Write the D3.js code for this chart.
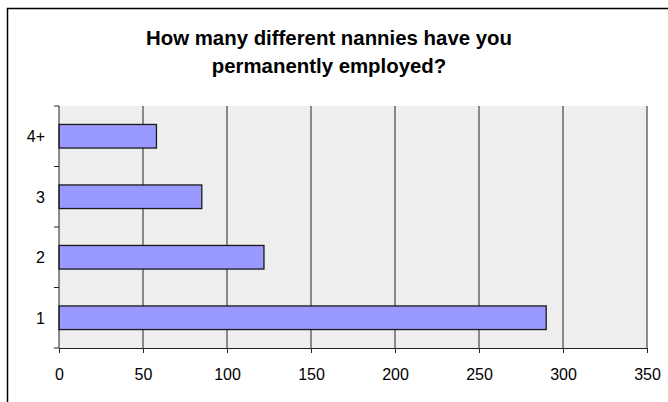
<!DOCTYPE html>
<html><head><meta charset="utf-8">
<script src="https://cdn.jsdelivr.net/npm/d3@7"></script>
<style>
body{margin:0;background:#fff;}
svg{display:block;font-family:"Liberation Sans",Arial,sans-serif;}
</style></head>
<body><svg id="c" width="668" height="402"></svg>
<script>
const titleLines = ["How many different nannies have you", "permanently employed?"];
const categories = ["1", "2", "3", "4+"];
const values = [290, 122, 85, 58];
const xTicks = [0, 50, 100, 150, 200, 250, 300, 350];

const svg = d3.select("#c");
const m = {left: 59, right: 647, top: 106, bottom: 348};
const FONT = "Liberation Sans, Arial, sans-serif";

svg.append("rect").attr("x", 7.5).attr("y", 8.5).attr("width", 700).attr("height", 420)
  .attr("fill", "#fff").attr("stroke", "#000").attr("stroke-width", 1.5);

const title = svg.append("text").attr("text-anchor", "middle").attr("font-weight", "bold")
  .attr("font-size", 20.4).attr("fill", "#000").attr("font-family", FONT);
titleLines.forEach((t, i) => title.append("tspan").attr("x", 329).attr("y", 45 + i * 28).text(t));

const x = d3.scaleLinear().domain([0, 350]).range([m.left, m.right]);
const y = d3.scaleBand().domain(categories.slice().reverse()).range([m.top, m.bottom])
  .paddingInner(0.61).paddingOuter(0.305);

svg.append("rect").attr("x", m.left).attr("y", m.top).attr("width", m.right - m.left)
  .attr("height", m.bottom - m.top).attr("fill", "#eeeeee");

svg.append("g").selectAll("line").data(xTicks.slice(1)).join("line")
  .attr("x1", d => x(d)).attr("x2", d => x(d)).attr("y1", m.top).attr("y2", m.bottom)
  .attr("stroke", "#222").attr("stroke-width", 1);

svg.append("g").selectAll("rect").data(categories).join("rect")
  .attr("x", x(0)).attr("y", d => y(d))
  .attr("width", (d, i) => x(values[i]) - x(0)).attr("height", y.bandwidth())
  .attr("fill", "#9999ff").attr("stroke", "#1a1a1a").attr("stroke-width", 1.3);

const xAxis = svg.append("g").attr("transform", `translate(0,${m.bottom})`)
  .call(d3.axisBottom(x).tickValues(xTicks).tickSize(5).tickPadding(16).tickFormat(d3.format("d")));
xAxis.select(".domain").attr("stroke", "#222");
xAxis.selectAll("line").attr("stroke", "#222");
xAxis.selectAll("text").attr("font-size", 16).attr("fill", "#000").attr("font-family", FONT);

// y axis with ticks at band boundaries
const step = (m.bottom - m.top) / categories.length;
const yb = svg.append("g");
yb.append("line").attr("x1", m.left).attr("x2", m.left).attr("y1", m.top).attr("y2", m.bottom)
  .attr("stroke", "#222");
yb.selectAll("line.t").data(d3.range(categories.length + 1)).join("line").attr("class", "t")
  .attr("x1", m.left - 5).attr("x2", m.left).attr("y1", i => m.top + i * step).attr("y2", i => m.top + i * step)
  .attr("stroke", "#222");
yb.selectAll("text").data(categories).join("text")
  .attr("x", 45).attr("y", d => y(d) + y.bandwidth() / 2).attr("dy", "0.36em")
  .attr("text-anchor", "end").attr("font-size", 16).attr("fill", "#000").attr("font-family", FONT).text(d => d);
</script></body></html>
